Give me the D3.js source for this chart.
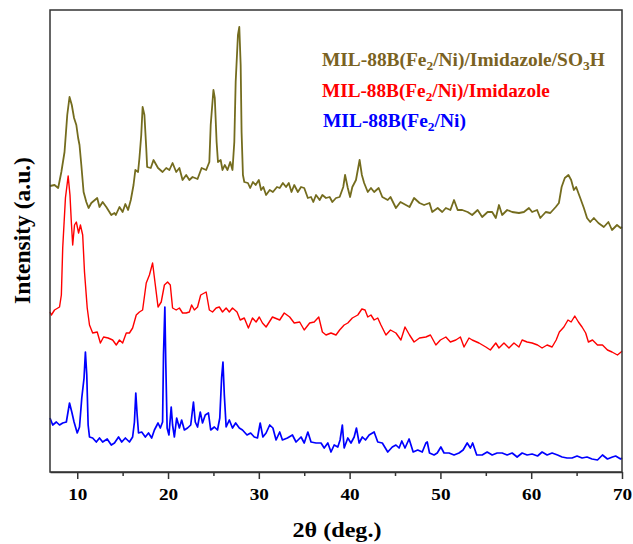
<!DOCTYPE html>
<html><head><meta charset="utf-8">
<script src="https://cdn.jsdelivr.net/npm/d3@7"></script>
<style>body{margin:0;background:#fff}svg{display:block}</style>
</head><body>
<script>
// 2θ (deg.) vs intensity (a.u., arbitrary offsets as stacked in the figure)
const xTicks = [10, 20, 30, 40, 50, 60, 70];
const xMinor = [15, 25, 35, 45, 55, 65];
const seriesNames = ["MIL-88B(Fe2/Ni)/Imidazole/SO3H", "MIL-88B(Fe2/Ni)/Imidazole", "MIL-88B(Fe2/Ni)"];

const olive = [[7.0,286],[7.5,287],[7.9,284],[8.25,300],[8.6,320],[8.9,357],[9.15,375],[9.4,367],[9.65,354],[9.9,347],[10.1,334],[10.25,327],[10.45,307],[10.7,280],[11.0,270],[11.25,264],[11.55,269],[12.2,274],[12.45,265],[12.8,270],[13.2,265],[13.75,257],[14.1,259],[14.25,257],[14.65,265],[15.0,260],[15.3,268],[15.6,262],[15.9,272],[16.2,287],[16.4,302],[16.7,300],[16.85,314],[17.05,337],[17.2,365],[17.4,357],[17.6,324],[17.7,305],[18.1,304],[18.4,312],[18.9,304],[19.4,300],[19.8,304],[20.15,302],[20.5,309],[20.9,300],[21.25,304],[21.6,292],[22.0,297],[22.35,292],[22.7,295],[23.25,293],[23.7,304],[24.2,302],[24.55,310],[24.7,347],[25.0,382],[25.15,374],[25.35,330],[25.5,310],[25.8,312],[26.0,302],[26.25,307],[26.55,302],[26.85,310],[27.1,302],[27.3,330],[27.45,390],[27.7,437],[27.85,445],[28.0,407],[28.1,340],[28.25,297],[28.4,290],[28.8,289],[29.05,284],[29.35,290],[29.65,287],[30.0,292],[30.25,282],[30.5,285],[30.8,277],[31.2,282],[31.55,280],[32.0,285],[32.3,284],[32.65,289],[33.0,285],[33.3,289],[33.6,280],[33.9,287],[34.3,280],[34.65,285],[35.0,284],[35.4,274],[35.75,275],[36.0,270],[36.3,277],[36.7,272],[37.0,277],[37.4,274],[37.8,275],[38.1,270],[38.5,274],[38.9,275],[39.3,285],[39.5,297],[39.8,284],[40.05,275],[40.3,285],[40.7,292],[41.1,312],[41.35,297],[41.6,289],[42.0,280],[42.35,284],[42.7,280],[43.2,284],[43.6,275],[44.2,272],[44.5,275],[45.1,264],[45.6,270],[46.2,267],[46.6,265],[47.1,274],[47.7,269],[48.2,267],[48.8,269],[49.1,260],[49.7,264],[50.2,260],[50.6,264],[51.1,262],[51.5,272],[51.9,262],[52.4,262],[53.0,260],[53.5,257],[54.1,262],[54.6,255],[55.2,260],[55.7,260],[56.1,254],[56.45,267],[56.8,257],[57.35,262],[57.9,260],[58.65,259],[59.2,260],[59.75,264],[60.1,260],[60.65,262],[61.0,254],[61.6,260],[62.1,259],[62.7,265],[63.05,269],[63.35,285],[63.7,294],[64.1,297],[64.4,292],[64.7,282],[64.95,285],[65.4,274],[65.8,264],[66.15,254],[66.5,250],[66.9,254],[67.4,249],[68.0,245],[68.5,250],[68.9,242],[69.45,247],[69.85,244],[70.0,245]];

const red = [[7.0,160],[7.15,157],[7.5,162],[8.05,165],[8.25,177],[8.4,224],[8.7,274],[9.0,296],[9.2,277],[9.35,250],[9.5,227],[9.7,247],[9.9,250],[10.15,239],[10.35,247],[10.6,237],[10.8,200],[11.1,164],[11.35,147],[11.7,139],[12.2,140],[12.55,129],[12.9,135],[13.4,134],[13.9,132],[14.3,127],[14.65,132],[15.0,129],[15.4,139],[15.75,139],[16.1,144],[16.5,157],[16.85,160],[17.2,162],[17.6,189],[17.95,197],[18.3,209],[18.6,187],[18.9,165],[19.25,170],[19.6,187],[19.95,190],[20.25,187],[20.5,164],[20.9,162],[21.25,164],[21.6,159],[22.0,159],[22.35,160],[22.6,167],[22.9,162],[23.25,165],[23.6,177],[24.2,180],[24.55,162],[24.9,160],[25.3,164],[25.65,165],[26.0,160],[26.4,164],[26.75,160],[27.1,164],[27.6,160],[27.95,152],[28.4,154],[28.85,144],[29.3,154],[29.7,150],[30.05,155],[30.4,149],[30.8,145],[31.5,155],[32.3,152],[32.8,159],[33.4,155],[33.9,149],[34.5,150],[35.0,142],[35.6,149],[36.1,150],[36.6,155],[37.0,140],[37.4,137],[37.95,139],[38.5,137],[38.9,142],[39.4,147],[39.8,149],[40.3,154],[40.9,157],[41.35,163],[41.7,162],[42.0,155],[42.35,157],[42.7,152],[43.1,154],[43.45,147],[44.0,137],[44.5,142],[45.1,139],[45.65,132],[46.1,145],[46.6,137],[47.1,130],[47.7,134],[48.4,135],[48.9,137],[49.5,127],[50.0,132],[50.6,135],[51.1,130],[51.7,132],[52.2,135],[52.6,125],[53.15,134],[53.5,132],[54.25,129],[55.0,125],[55.5,122],[56.1,129],[56.45,124],[57.0,129],[57.55,124],[58.1,129],[58.65,125],[59.0,132],[59.55,130],[60.1,129],[60.7,127],[61.2,124],[61.75,127],[62.3,125],[62.75,132],[63.1,140],[63.6,145],[64.05,152],[64.4,150],[64.8,156],[65.2,150],[65.6,145],[66.0,139],[66.3,130],[66.75,132],[67.3,127],[67.85,127],[68.4,122],[68.9,120],[69.5,117],[69.9,120],[70.0,121]];

const blue = [[7.0,54],[7.3,47],[7.7,50],[8.05,47],[8.4,49],[8.8,50],[9.15,69],[9.4,60],[9.65,50],[10.0,39],[10.25,45],[10.5,74],[10.75,94],[10.9,120],[11.05,97],[11.2,47],[11.35,35],[11.7,34],[12.1,30],[12.45,34],[12.8,30],[13.3,33],[13.75,27],[14.1,29],[14.55,35],[14.9,30],[15.3,34],[15.75,30],[16.1,35],[16.3,50],[16.45,79],[16.6,57],[16.75,39],[17.1,40],[17.5,35],[17.85,39],[18.2,34],[18.5,42],[18.9,49],[19.15,44],[19.4,50],[19.5,117],[19.65,165],[19.75,110],[19.9,44],[20.1,37],[20.35,65],[20.5,47],[20.7,35],[20.95,54],[21.25,44],[21.5,52],[21.8,42],[22.15,44],[22.5,47],[22.8,70],[23.0,50],[23.25,45],[23.55,60],[23.8,49],[24.1,57],[24.45,59],[24.7,42],[25.1,45],[25.45,42],[25.7,54],[25.9,94],[26.05,110],[26.2,77],[26.4,45],[26.75,52],[27.1,44],[27.45,49],[27.85,44],[28.2,42],[28.7,37],[29.1,39],[29.5,35],[29.85,34],[30.15,49],[30.45,35],[30.8,39],[31.2,47],[31.55,44],[31.9,32],[32.3,40],[32.6,32],[33.15,34],[33.7,37],[34.1,30],[34.65,35],[35.0,29],[35.4,40],[35.75,30],[36.3,29],[36.85,29],[37.2,24],[37.6,29],[37.95,20],[38.3,27],[38.7,25],[38.95,32],[39.2,47],[39.4,24],[39.8,34],[40.15,29],[40.5,35],[40.75,44],[41.05,29],[41.4,35],[41.75,32],[42.15,37],[42.7,40],[43.1,30],[43.6,29],[44.2,20],[44.7,25],[45.1,27],[45.45,24],[45.75,31],[46.1,24],[46.55,33],[47.0,20],[47.5,22],[48.0,20],[48.4,29],[48.55,30],[48.8,19],[49.3,17],[49.65,19],[50.05,25],[50.4,19],[50.95,19],[51.5,17],[52.05,19],[52.5,22],[52.95,29],[53.3,24],[53.55,29],[54.0,17],[54.6,17],[55.15,20],[55.7,17],[56.25,19],[56.8,19],[57.35,17],[57.9,19],[58.45,15],[59.0,19],[59.55,17],[60.1,18],[60.7,16],[61.2,20],[61.75,17],[62.3,19],[62.9,17],[63.4,15],[63.95,14],[64.5,14],[65.05,16],[65.6,14],[66.15,15],[66.7,13],[67.3,12],[67.85,17],[68.4,13],[68.95,15],[69.3,16],[69.85,13],[70.0,14]];

const W = 633, H = 544;
const m = {l: 50, r: 11, t: 10, b: 72};
const svg = d3.select("body").append("svg").attr("width", W).attr("height", H);
const x = d3.scaleLinear().domain([7, 70]).range([m.l, W - m.r]);
const y = d3.scaleLinear().domain([0, 462]).range([H - m.b, m.t]);
const FONT = "'Liberation Serif','Times New Roman',serif";

const line = d3.line().x(d => x(d[0])).y(d => y(d[1]));
const plot = svg.append("g");
plot.append("path").datum(blue).attr("d", line).attr("fill", "none").attr("stroke", "#0000ff").attr("stroke-width", 1.7).attr("stroke-linejoin", "round");
plot.append("path").datum(red).attr("d", line).attr("fill", "none").attr("stroke", "#ff0000").attr("stroke-width", 1.4).attr("stroke-linejoin", "round");
plot.append("path").datum(olive).attr("d", line).attr("fill", "none").attr("stroke", "#746c1e").attr("stroke-width", 1.8).attr("stroke-linejoin", "round");

// frame
const frameColor = "#333";
svg.append("rect").attr("x", m.l).attr("y", m.t).attr("width", W - m.r - m.l).attr("height", H - m.b - m.t)
  .attr("fill", "none").attr("stroke", frameColor).attr("stroke-width", 1.5);

// horizontally stretch a text element to a target width (reference typeface is wider)
function fitWidth(sel, target, anchor) {
  const node = sel.node();
  const bb = node.getBBox();
  const k = target / bb.width;
  const ax = anchor === "middle" ? bb.x + bb.width / 2 : bb.x;
  sel.attr("transform", `translate(${ax},0) scale(${k},1) translate(${-ax},0)`);
}

// bottom axis
const gx = svg.append("g").attr("transform", `translate(0,${H - m.b})`)
  .call(d3.axisBottom(x).tickValues(xTicks).tickSize(7).tickSizeOuter(0).tickPadding(10).tickFormat(d3.format("d")));
gx.select(".domain").attr("stroke", frameColor).attr("stroke-width", 1.5);
gx.selectAll(".tick line").attr("stroke", frameColor).attr("stroke-width", 1.5);
gx.selectAll(".tick text").attr("font-family", FONT).attr("font-weight", "bold").attr("font-size", 16).attr("fill", "#000")
  .attr("transform", "scale(1.2,1)");
const gm = svg.append("g").attr("transform", `translate(0,${H - m.b})`)
  .call(d3.axisBottom(x).tickValues(xMinor).tickSize(4).tickFormat(""));
gm.select(".domain").remove();
gm.selectAll(".tick line").attr("stroke", frameColor).attr("stroke-width", 1.5);

// axis titles
const xt = svg.append("text").attr("x", 337).attr("y", 537).attr("text-anchor", "middle")
  .attr("font-family", FONT).attr("font-weight", "bold").attr("font-size", 20).text("2θ (deg.)");
fitWidth(xt, 89, "middle");
svg.append("text").attr("transform", `translate(30,230.5) rotate(-90)`).attr("text-anchor", "middle")
  .attr("font-family", FONT).attr("font-weight", "bold").attr("font-size", 23.5).text("Intensity (a.u.)");

// legend
const legend = [
  {parts: [["MIL-88B(Fe"], ["2", 1], ["/Ni)/Imidazole/SO"], ["3", 1], ["H"]], color: "#7a6222", x: 322, y: 66.5, w: 283},
  {parts: [["MIL-88B(Fe"], ["2", 1], ["/Ni)/Imidazole"]], color: "#ff0000", x: 322, y: 97, w: 228},
  {parts: [["MIL-88B(Fe"], ["2", 1], ["/Ni)"]], color: "#0000ff", x: 323, y: 127, w: 143}
];
legend.forEach(L => {
  const t = svg.append("text").attr("x", L.x).attr("y", L.y).attr("font-family", FONT)
    .attr("font-weight", "bold").attr("font-size", 18).attr("fill", L.color);
  let sub = false;
  L.parts.forEach(p => {
    const isSub = !!p[1];
    const ts = t.append("tspan").text(p[0]);
    if (isSub) ts.attr("font-size", 12.5).attr("dy", 4);
    else if (sub) ts.attr("dy", -4);
    sub = isSub;
  });
  fitWidth(t, L.w, "start");
});
</script>
</body></html>
